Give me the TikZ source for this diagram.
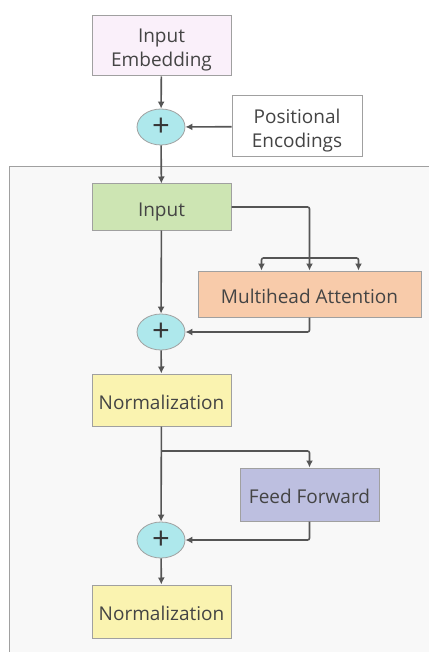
\documentclass[tikz,border=0pt]{standalone}
\usepackage{fontspec}
\setmainfont{Open Sans}
\usetikzlibrary{arrows.meta}
\usetikzlibrary{positioning}
\usetikzlibrary{shapes}

\definecolor{textgray}{HTML}{444444}
\definecolor{linegray}{HTML}{555555}
\definecolor{boxline}{HTML}{A0A0A0}
\definecolor{bggray}{HTML}{F8F8F8}
\definecolor{embpink}{HTML}{FAF0FA}
\definecolor{addcyan}{HTML}{AEE8EC}
\definecolor{inputgreen}{HTML}{CDE5B3}
\definecolor{attpeach}{HTML}{F8CBAA}
\definecolor{normyellow}{HTML}{FAF3B0}
\definecolor{fflavender}{HTML}{BDBFE0}

\tikzset{
  box/.style={draw=boxline,line width=1pt,minimum width=139pt,inner sep=0pt,
    text=textgray,align=center,text height=18pt,text depth=0pt,
    font=\fontsize{19}{24}\selectfont},
  twoline/.style={text height=42pt},
  addnode/.style={draw=boxline,ellipse,fill=addcyan,line width=0.8pt,
    minimum width=48pt,minimum height=36pt,inner sep=0pt,
    text=textgray!80!black,font=\fontsize{31}{31}\selectfont},
  link/.style={draw=linegray,line width=1.6pt,rounded corners=2pt,
    -{Latex[length=7pt,width=7pt]}}
}

\begin{document}
\begin{tikzpicture}[x=1pt,y=-1pt]
          \useasboundingbox (0,0) rectangle (429,652);
          % encoder block background
          \fill[bggray] (9,167) rectangle (429,652);
          \draw[boxline,line width=1pt] (429,167) -- (9,167) -- (9,652);

          \node[box,twoline,fill=embpink,minimum height=60pt] (inputEmbedding) at (161.5,46) {Input\\Embedding};
          \node[addnode] (add1) at (161,127) {+};
          \node[box,twoline,fill=white,minimum width=130pt,minimum height=61pt] (posEnc) at (297,126.5) {Positional\\Encodings};
          \node[box,fill=inputgreen,minimum height=46pt] (input) at (161.5,207) {Input};
          \node[box,fill=attpeach,minimum width=223pt,minimum height=46pt] (attention) at (309.5,294) {Multihead Attention};
          \node[addnode] (add2) at (161,332) {+};
          \node[box,fill=normyellow,minimum height=52pt] (norm1) at (161.5,400) {Normalization};
          \node[box,fill=fflavender,minimum height=53pt] (feedForward) at (309.5,494.5) {Feed Forward};
          \node[addnode] (add3) at (161,540) {+};
          \node[box,fill=normyellow,minimum height=53pt] (norm2) at (161.5,611.5) {Normalization};

          \coordinate (split) at (309.5,258);
          \coordinate (branch) at (161.5,451);

          \draw[link] (inputEmbedding) -- (add1);
          \draw[link] (posEnc) -- (add1);
          \draw[link] (add1) -- (input);
          % query, key, value
          \draw[link] (input.east) -| (attention.north);
          \draw[link,{Latex[length=7pt,width=7pt]}-{Latex[length=7pt,width=7pt]}]
            ([xshift=-48pt]attention.north) |- (split) -| ([xshift=49pt]attention.north);
          % residual paths
          \draw[link] (input) -- (add2);
          \draw[link] (attention.south) |- (add2.east);
          \draw[link] (add2) -- (norm1);
          \draw[link] (norm1) -- (add3);
          \draw[link] (branch) -| (feedForward.north);
          \draw[link] (feedForward.south) |- (add3.east);
          \draw[link] (add3) -- (norm2);
        \end{tikzpicture}
\end{document}
